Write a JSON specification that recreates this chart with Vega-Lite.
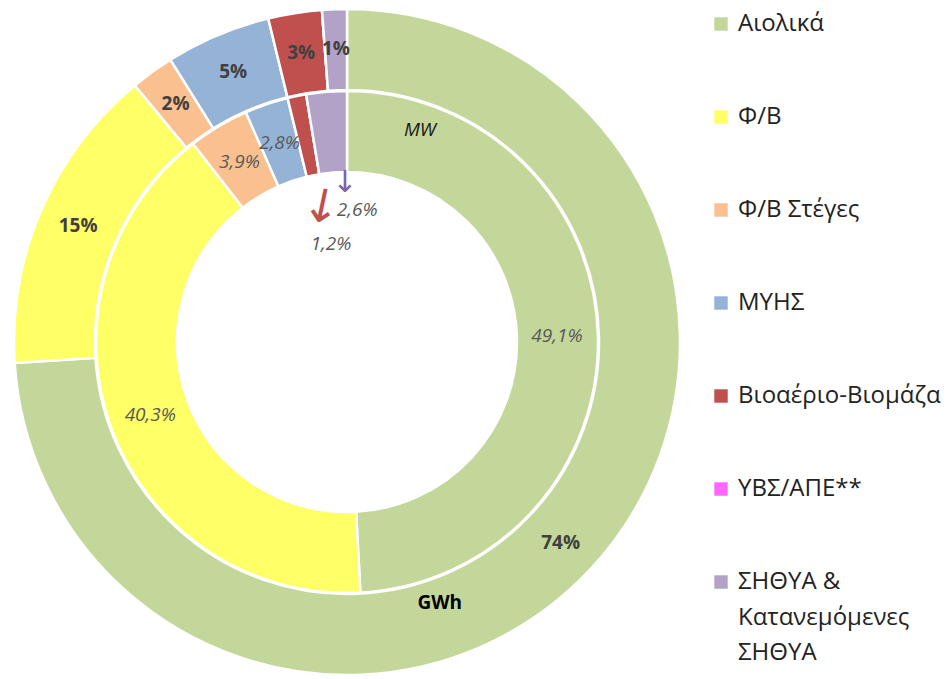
{
  "$schema": "https://vega.github.io/schema/vega-lite/v6.json",
  "width": 694,
  "height": 684,
  "padding": {"left": 0, "top": 0, "right": 252, "bottom": 0},
  "autosize": {"type": "none"},
  "background": "white",
  "config": {"view": {"stroke": null}, "font": "Open Sans", "style": {"guide-label": {"lineHeight": 35.5}}},
  "datasets": {
    "shares": [
      {"ring": "GWh", "src": "Αιολικά", "i": 1, "v": 74.0, "label": "74%"},
      {"ring": "GWh", "src": "Φ/Β", "i": 2, "v": 15.0, "label": "15%"},
      {"ring": "GWh", "src": "Φ/Β Στέγες", "i": 3, "v": 2.1, "label": "2%"},
      {"ring": "GWh", "src": "ΜΥΗΣ", "i": 4, "v": 5.1, "label": "5%"},
      {"ring": "GWh", "src": "Βιοαέριο-Βιομάζα", "i": 5, "v": 2.6, "label": "3%"},
      {"ring": "GWh", "src": "ΥΒΣ/ΑΠΕ**", "i": 6, "v": 0, "label": ""},
      {"ring": "GWh", "src": "ΣΗΘΥΑ & Κατανεμόμενες ΣΗΘΥΑ", "i": 7, "v": 1.2, "label": "1%"},
      {"ring": "MW", "src": "Αιολικά", "i": 1, "v": 49.1, "label": "49,1%"},
      {"ring": "MW", "src": "Φ/Β", "i": 2, "v": 40.3, "label": "40,3%"},
      {"ring": "MW", "src": "Φ/Β Στέγες", "i": 3, "v": 3.9, "label": "3,9%"},
      {"ring": "MW", "src": "ΜΥΗΣ", "i": 4, "v": 2.8, "label": "2,8%"},
      {"ring": "MW", "src": "Βιοαέριο-Βιομάζα", "i": 5, "v": 1.2, "label": "1,2%"},
      {"ring": "MW", "src": "ΥΒΣ/ΑΠΕ**", "i": 6, "v": 0, "label": ""},
      {"ring": "MW", "src": "ΣΗΘΥΑ & Κατανεμόμενες ΣΗΘΥΑ", "i": 7, "v": 2.6, "label": "2,6%"}
    ]
  },
  "data": {"name": "shares"},
  "resolve": {"scale": {"theta": "independent"}},
  "layer": [
    {
      "transform": [{"filter": "datum.ring === 'GWh'"}],
      "mark": {"type": "arc", "innerRadius": 252, "outerRadius": 333, "stroke": "white", "strokeWidth": 2.5},
      "encoding": {
        "theta": {"field": "v", "type": "quantitative", "stack": true},
        "order": {"field": "i", "type": "quantitative"},
        "color": {
          "field": "src", "type": "nominal",
          "scale": {
            "domain": ["Αιολικά", "Φ/Β", "Φ/Β Στέγες", "ΜΥΗΣ", "Βιοαέριο-Βιομάζα", "ΥΒΣ/ΑΠΕ**", "ΣΗΘΥΑ & Κατανεμόμενες ΣΗΘΥΑ"],
            "range": ["#C4D79B", "#FFFF66", "#FAC090", "#95B3D7", "#C0504D", "#FF66FF", "#B3A2C7"]
          },
          "legend": {
            "title": null,
            "orient": "none",
            "legendX": 709,
            "legendY": 12,
            "padding": 0,
            "symbolType": "square",
            "symbolSize": 180,
            "symbolStrokeWidth": 0,
            "labelFont": "Open Sans",
            "labelFontSize": 24,
            "labelColor": "#222222",
            "labelLimit": 300,
            "labelOffset": 5,
            "rowPadding": 69,
            "labelExpr": "datum.label === 'ΣΗΘΥΑ & Κατανεμόμενες ΣΗΘΥΑ' ? ['ΣΗΘΥΑ &', 'Κατανεμόμενες', 'ΣΗΘΥΑ'] : datum.label",
            "encode": {"labels": {"enter": {"lineHeight": {"value": 35.5}}, "update": {"lineHeight": {"value": 35.5}}}}
          }
        }
      }
    },
    {
      "transform": [{"filter": "datum.ring === 'MW'"}],
      "mark": {"type": "arc", "innerRadius": 170, "outerRadius": 251, "stroke": "white", "strokeWidth": 2.5},
      "encoding": {
        "theta": {"field": "v", "type": "quantitative", "stack": true},
        "order": {"field": "i", "type": "quantitative"},
        "color": {"field": "src", "type": "nominal"}
      }
    },
    {
      "transform": [{"filter": "datum.ring === 'GWh'"}],
      "mark": {"type": "text", "radius": 293, "fontSize": 19, "fontWeight": "bold", "fill": "#404040"},
      "encoding": {
        "theta": {"field": "v", "type": "quantitative", "stack": true},
        "order": {"field": "i", "type": "quantitative"},
        "text": {"field": "label"}
      }
    },
    {
      "transform": [{"filter": "datum.ring === 'MW'"}],
      "mark": {"type": "text", "radius": 210, "fontSize": 19, "fontStyle": "italic", "fill": "#595959"},
      "encoding": {
        "theta": {"field": "v", "type": "quantitative", "stack": true},
        "order": {"field": "i", "type": "quantitative"},
        "text": {"condition": {"test": "datum.v >= 2.7", "field": "label"}, "value": ""}
      }
    },
    {
      "transform": [{"filter": "datum.ring === 'MW'"}],
      "mark": {"type": "text", "radius": 132, "dx": 21, "fontSize": 19, "fontStyle": "italic", "fill": "#595959"},
      "encoding": {
        "theta": {"field": "v", "type": "quantitative", "stack": true},
        "order": {"field": "i", "type": "quantitative"},
        "text": {"condition": {"test": "datum.i === 7", "field": "label"}, "value": ""}
      }
    },
    {
      "transform": [{"filter": "datum.ring === 'MW'"}],
      "mark": {"type": "text", "radius": 100, "dx": 4, "fontSize": 19, "fontStyle": "italic", "fill": "#595959"},
      "encoding": {
        "theta": {"field": "v", "type": "quantitative", "stack": true},
        "order": {"field": "i", "type": "quantitative"},
        "text": {"condition": {"test": "datum.i === 5", "field": "label"}, "value": ""}
      }
    },
    {
      "transform": [{"filter": "datum.ring === 'MW'"}],
      "mark": {"type": "text", "radius": 160, "dx": 11, "font": "DejaVu Sans", "fontSize": 30, "fill": "#7F63A6"},
      "encoding": {
        "theta": {"field": "v", "type": "quantitative", "stack": true},
        "order": {"field": "i", "type": "quantitative"},
        "text": {"condition": {"test": "datum.i === 7", "value": "↓"}, "value": ""}
      }
    },
    {
      "transform": [{"filter": "datum.ring === 'MW'"}],
      "mark": {"type": "text", "radius": 137, "dx": 2, "angle": 12, "font": "DejaVu Sans", "fontSize": 46, "fill": "#C0504D"},
      "encoding": {
        "theta": {"field": "v", "type": "quantitative", "stack": true},
        "order": {"field": "i", "type": "quantitative"},
        "text": {"condition": {"test": "datum.i === 5", "value": "↓"}, "value": ""}
      }
    },
    {
      "data": {"values": [{"t": "MW"}]},
      "mark": {"type": "text", "theta": 0.332, "radius": 224, "fontSize": 19, "fontStyle": "italic", "fill": "#1a1a1a"},
      "encoding": {"text": {"field": "t"}}
    },
    {
      "data": {"values": [{"t": "GWh"}]},
      "mark": {"type": "text", "theta": 2.80, "radius": 277, "fontSize": 19, "fontWeight": "bold", "fill": "#000000"},
      "encoding": {"text": {"field": "t"}}
    }
  ]
}
